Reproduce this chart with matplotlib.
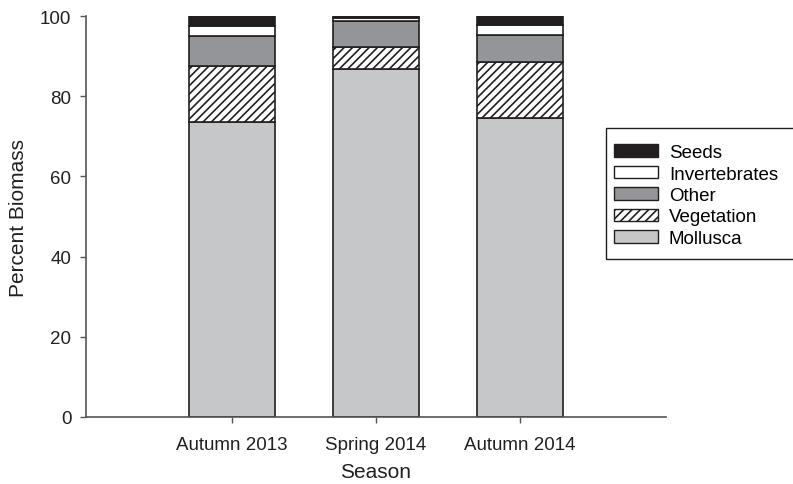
import matplotlib
matplotlib.use("Agg")
import matplotlib.pyplot as plt
from matplotlib.patches import Rectangle, Patch

plt.rcParams['font.family'] = ['Liberation Sans', 'DejaVu Sans']
plt.rcParams['hatch.linewidth'] = 1.2

seasons = ["Autumn 2013", "Spring 2014", "Autumn 2014"]
mollusca = [73.5, 86.7, 74.6]
vegetation = [14.1, 5.6, 14.0]
other = [7.3, 6.4, 6.7]
invertebrates = [2.5, 0.8, 2.5]
seeds = [2.6, 0.5, 2.2]

categories = ["Mollusca", "Vegetation", "Other", "Invertebrates", "Seeds"]
series = [mollusca, vegetation, other, invertebrates, seeds]
colors = ["#c6c7c9", "white", "#939598", "white", "#231f20"]
hatches = [None, "////", None, None, None]

W, H = 793, 485
fig = plt.figure(figsize=(W / 100, H / 100), dpi=100)
ax = fig.add_axes([86 / W, 1 - 418 / H, (666 - 86) / W, (418 - 17) / H])

x = list(range(len(seasons)))
bottom = [0.0] * len(seasons)
handles = {}
for name, vals, c, h in zip(categories, series, colors, hatches):
    ax.bar(x, vals, width=0.6, bottom=bottom, color=c, edgecolor="#231f20",
           linewidth=1.2, hatch=h)
    bottom = [b + v for b, v in zip(bottom, vals)]
    handles[name] = Patch(facecolor=c, edgecolor="#231f20", linewidth=1.0, hatch=h)

ax.set_xlim(-1.014, 3.014)
ax.set_ylim(0, 100)
ax.set_yticks([0, 20, 40, 60, 80, 100])
ax.set_xticks(x)
ax.set_xticklabels(seasons)
for s in ["top", "right"]:
    ax.spines[s].set_visible(False)
for s in ["left", "bottom"]:
    ax.spines[s].set_color("#555555")
    ax.spines[s].set_linewidth(1.2)
ax.tick_params(axis="both", direction="out", length=4.5, width=1.0,
               color="#555555", labelsize=13.5, labelcolor="#231f20")
ax.tick_params(axis="x", pad=9)
ax.tick_params(axis="y", pad=6)
ax.set_ylabel("Percent Biomass", fontsize=15, color="#231f20", labelpad=9)
ax.set_xlabel("Season", fontsize=15, color="#231f20", labelpad=7)

order = ["Seeds", "Invertebrates", "Other", "Vegetation", "Mollusca"]
leg = fig.legend([handles[n] for n in order], order,
                 loc="upper left", bbox_to_anchor=(614 / W, 1 - 145 / H),
                 frameon=False, fontsize=13.5, handlelength=2.35,
                 handleheight=0.67, labelspacing=0.24, handletextpad=0.58,
                 borderpad=0, borderaxespad=0)
fig.add_artist(Rectangle((606 / W, 1 - 260 / H), (800 - 606) / W, (260 - 129) / H,
                         transform=fig.transFigure, fill=False,
                         edgecolor="#231f20", linewidth=1.0))

fig.savefig("out.png", dpi=100)
